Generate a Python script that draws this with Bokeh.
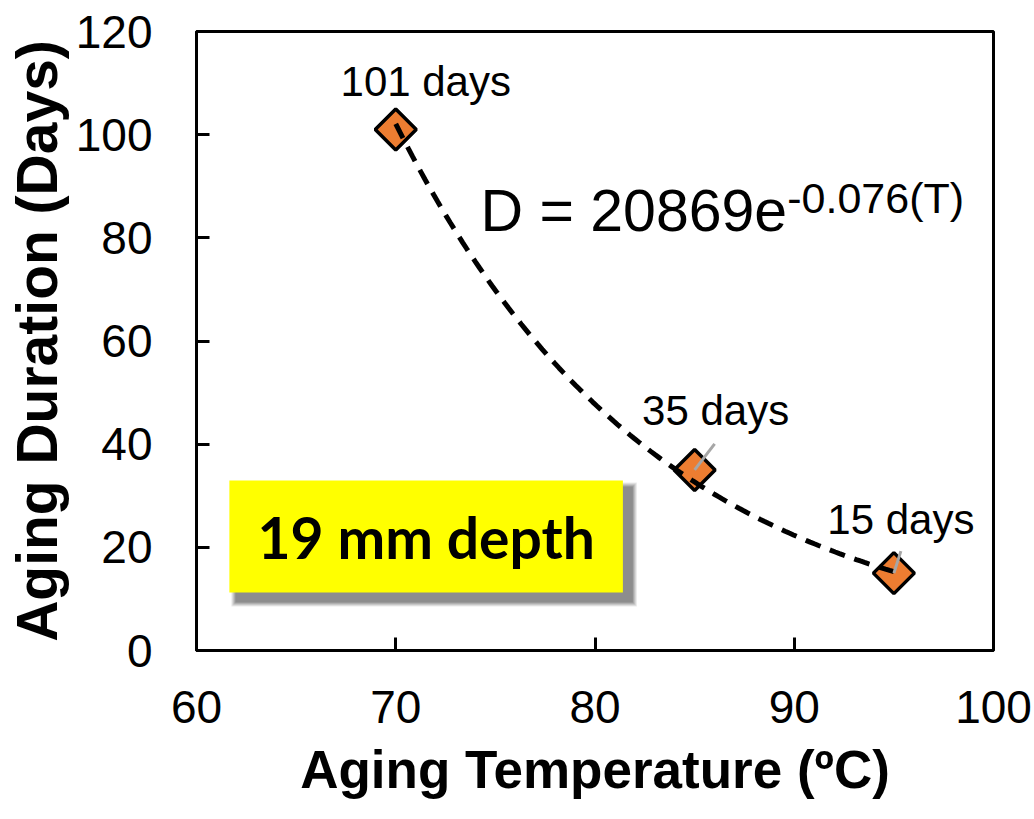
import numpy as np
from bokeh.plotting import figure
from bokeh.models import FixedTicker, BoxAnnotation, Label, ColumnDataSource
from bokeh.core.properties import value
from bokeh.embed import file_html
from bokeh.resources import INLINE

# ---- data ----
temperature = [70, 85, 95]
duration = [101, 35, 15]
point_labels = ["101 days", "35 days", "15 days"]
x_ticks = [60, 70, 80, 90, 100]
y_ticks = [0, 20, 40, 60, 80, 100, 120]
fit_a = 20869
fit_b = -0.076
eq_main = "D = 20869e"
eq_sup = "-0.076(T)"
box_text = "19 mm depth"

# label placement (screen px)
label_dx = [30, 21, 7]
label_dy = [-48, -59, -54]

FONT = "Liberation Sans"

p = figure(width=1032, height=817, x_range=(60, 100), y_range=(0, 120),
           output_backend="svg", toolbar_location=None,
           min_border_left=196, min_border_right=39, min_border_top=31,
           min_border_bottom=167)
p.background_fill_color = "white"
p.border_fill_color = "white"
p.grid.visible = False
p.outline_line_color = "black"
p.outline_line_width = 3

for ax in (p.xaxis[0], p.yaxis[0]):
    ax.axis_line_width = 3
    ax.axis_line_color = "black"
    ax.major_tick_in = 13
    ax.major_tick_out = 0
    ax.major_tick_line_width = 3
    ax.minor_tick_line_color = None
    ax.major_label_text_font = FONT
    ax.major_label_text_font_size = "46px"
    ax.major_label_text_color = "black"
    ax.axis_label_text_font = FONT
    ax.axis_label_text_font_style = "bold"
    ax.axis_label_text_color = "black"

p.xaxis.ticker = FixedTicker(ticks=x_ticks)
p.yaxis.ticker = FixedTicker(ticks=y_ticks)
p.xaxis.major_label_standoff = 40
p.yaxis.major_label_standoff = 44
p.xaxis.axis_label = "Aging Temperature (ºC)"
p.yaxis.axis_label = "Aging Duration (Days)"
p.xaxis.axis_label_text_font_size = "53px"
p.yaxis.axis_label_text_font_size = "57px"
p.xaxis.axis_label_standoff = 14
p.yaxis.axis_label_standoff = 4

# yellow box with shadow
px_x = 40 / 797.0
px_y = 120 / 619.0
bx0, bx1, by0, by1 = 61.65, 81.4, 11.24, 32.96
for i, a in enumerate([0.12, 0.15, 0.18, 0.22, 0.3]):
    g = 6 - i
    p.add_layout(BoxAnnotation(left=bx0 + (8 - g) * px_x, right=bx1 + (8 + g) * px_x,
                               bottom=by0 - (8 + g) * px_y, top=by1 - (8 - g) * px_y,
                               fill_color="#555555", fill_alpha=a, line_color=None,
                               level="underlay"))
p.add_layout(BoxAnnotation(left=bx0, right=bx1, bottom=by0, top=by1,
                           fill_color="#FFFF00", fill_alpha=1.0, line_color=None,
                           level="underlay"))
p.text(x=[(bx0 + bx1) / 2], y=[(by0 + by1) / 2], text=[box_text],
       text_font=value("Lato"), text_font_style="bold", text_font_size="57px",
       text_align="center", text_baseline="middle", text_color="black")

# markers
src = ColumnDataSource(dict(x=temperature, y=duration, lab=point_labels,
                            dx=label_dx, dy=label_dy))
p.scatter("x", "y", source=src, marker="square", size=29, angle=np.pi / 4,
          fill_color="#ED7D31", line_color="black", line_width=3.5)

# trendline from the fitted equation
t_fit = np.linspace(min(temperature), max(temperature), 120)
d_fit = fit_a * np.exp(fit_b * t_fit)
p.line(t_fit, d_fit, line_color="black", line_width=5, line_dash="16 10")

# leader lines for labels 2 and 3
lx0 = [temperature[1], temperature[2]]
ly0 = [duration[1], duration[2]]
lx1 = [temperature[1] + 20 * px_x, temperature[2] + 7 * px_x]
ly1 = [duration[1] + 26 * px_y, duration[2] + 22 * px_y]
p.segment(lx0, ly0, lx1, ly1, line_color="#A6A6A6", line_width=3)

# data labels
p.text(x="x", y="y", text="lab", source=src, x_offset="dx", y_offset="dy",
       text_font=value(FONT), text_font_size="42px", text_align="center",
       text_baseline="alphabetic", text_color="black")

# equation
p.add_layout(Label(x=74.25, y=85.2, text=eq_main, text_font=FONT,
                   text_font_size="59px", text_color="black",
                   text_baseline="alphabetic", text_align="left"))
p.add_layout(Label(x=89.65, y=87.8, text=eq_sup, text_font=FONT,
                   text_font_size="43px", text_color="black",
                   text_baseline="alphabetic", text_align="left"))

open("out.html", "w").write(file_html(p, INLINE))
